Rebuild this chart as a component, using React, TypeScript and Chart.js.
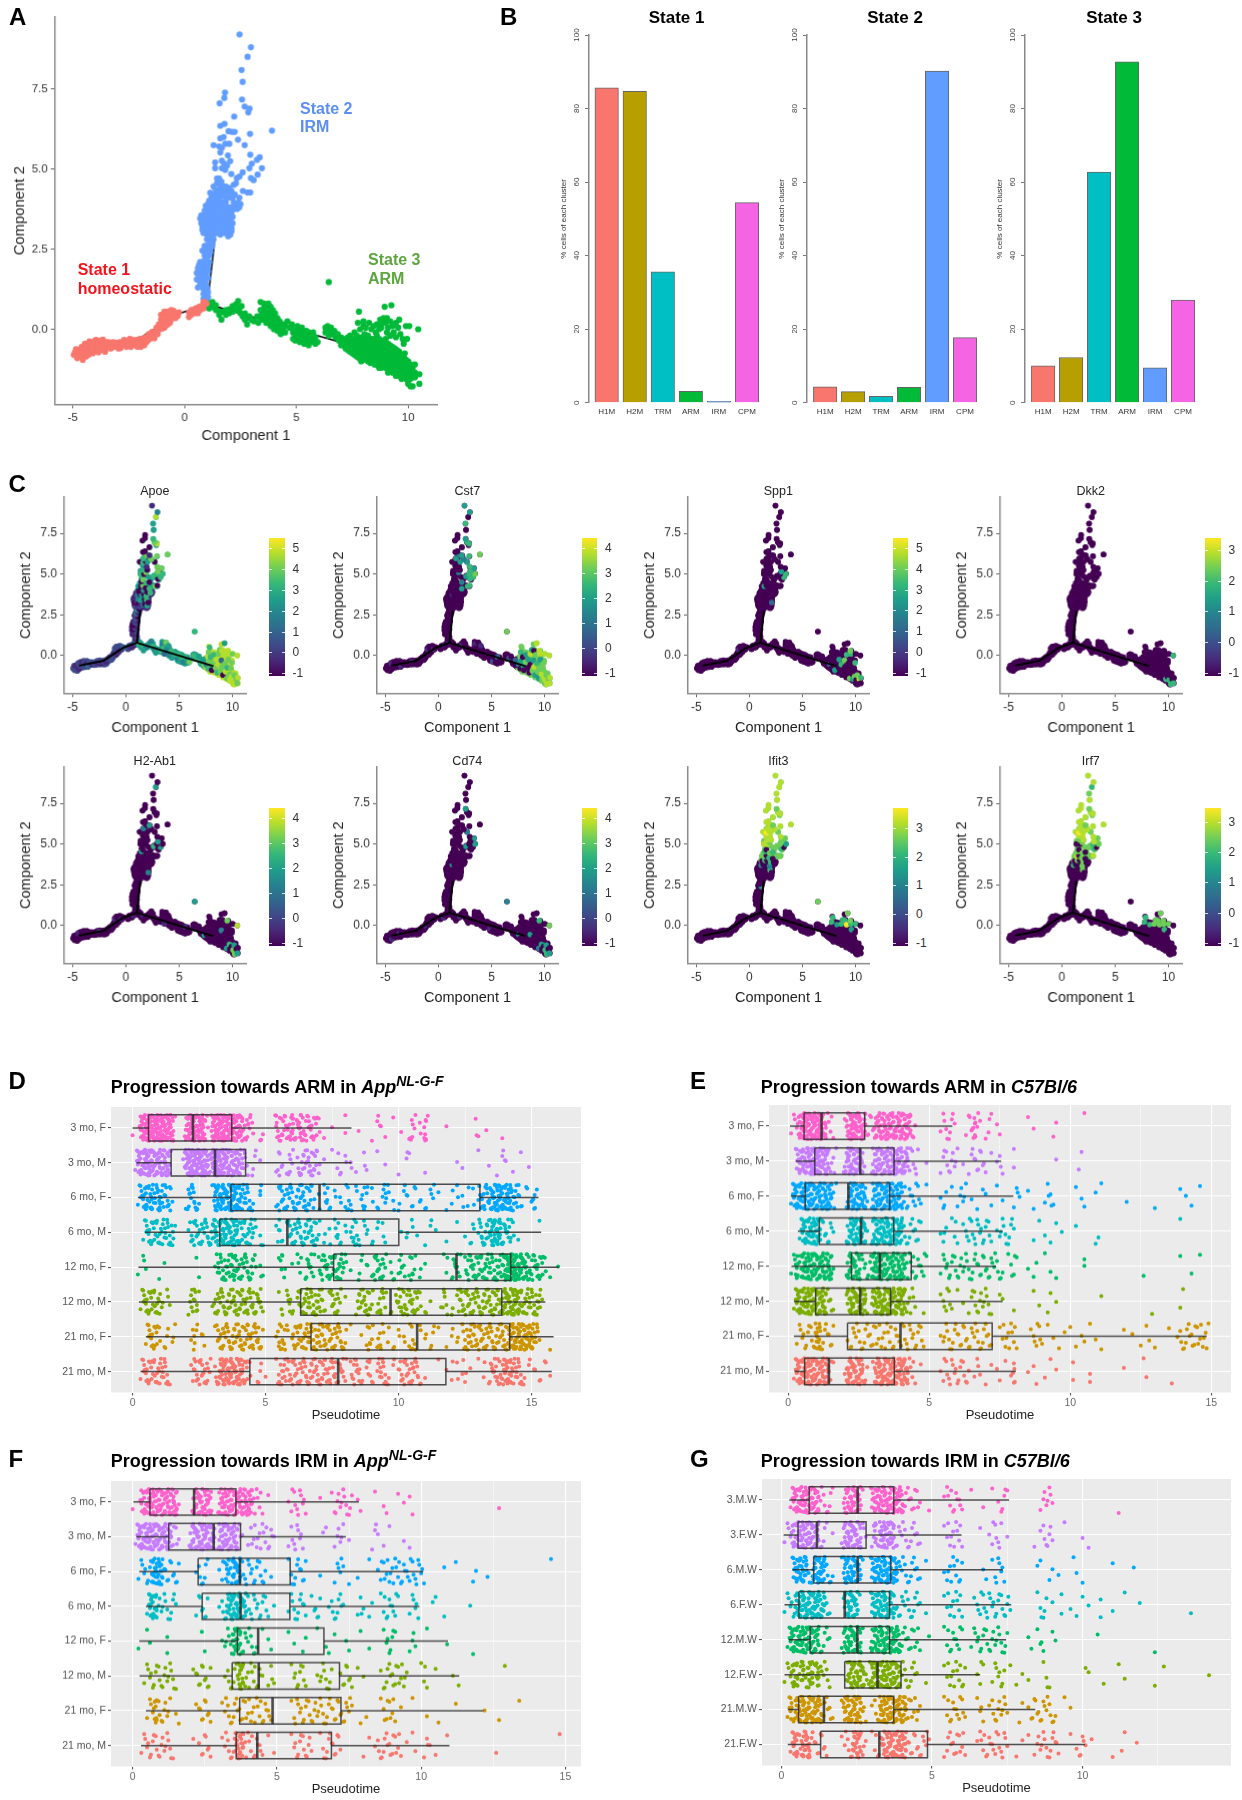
import React, { useEffect, useRef } from 'react';
import { Chart, registerables } from 'chart.js';
Chart.register(...registerables);
Chart.defaults.font.family = '"Liberation Sans", Arial, sans-serif';

// ---------- Panel A cells (flat x,y pairs) ----------
const state1Cells = [-4.95,-.8,-4.9,-.72,-4.8,-.9,-4.75,-.75,-4.7,-.65,-4.65,-.85,-4.55,-.95,-4.5,-.75,-4.5,-.6,-4.45,-.45,-4.4,-.85,-4.35,-.65,-4.3,-.5,-4.25,-.38,-4.2,-.72,-4.15,-.58,-4.05,-.45,-4,-.68,-3.95,-.33,-3.9,-.55,-3.85,-.72,-3.8,-.42,-3.7,-.6,-3.65,-.32,-3.6,-.48,-3.55,-.7,-3.45,-.55,-3.4,-.4,-3.3,-.6,-3.25,-.48,-3.15,-.55,-3,-.5,-2.9,-.4,-2.85,-.58,-2.75,-.45,-2.7,-.33,-2.6,-.55,-2.55,-.42,-2.45,-.3,-2.4,-.55,-2.3,-.42,-2.2,-.5,-2.15,-.33,-2.05,-.45,-1.95,-.55,-1.9,-.3,-1.85,-.42,-1.75,-.25,-1.7,-.4,-1.6,-.15,-1.55,-.3,-1.45,-.08,-1.4,-.22,-1.3,-.1,-1.25,.05,-1.2,-.15,-1.15,.15,-1.1,0,-1.05,.3,-1.05,.45,-1,.15,-.95,.38,-.9,.55,-.9,.05,-.85,.25,-.8,.45,-.75,.15,-.7,.35,-.7,.55,-.6,.3,-.55,.48,-.5,.58,-.45,.4,-.4,.5,-.3,.42,-.25,.53,.2,.38,.2,.52,.3,.45,.35,.6,.45,.5,.5,.65,.55,.55,.65,.7,.7,.6,.8,.75,.85,.65,.9,.85,.98,.8,
-4.85,-.62,-4.65,-.7,-4.6,-.55,-4.4,-.55,-4.3,-.8,-4.2,-.45,-4.1,-.75,-4,-.35,-3.9,-.42,-3.75,-.35,-3.75,-.65,-3.6,-.62,-3.5,-.4,-3.2,-.4,-3.1,-.42,-2.95,-.6,-2.65,-.38,-2.5,-.5,-2.35,-.32,-2.1,-.55,-2,-.3,-1.8,-.5,-1.65,-.35,-1.5,-.2,-1.35,-.28,-1.2,0,-1,.02,-.85,.1,-.8,.55,-.65,.2,-.6,.6,-.4,.35,.3,.6,.6,.5,.75,.7,.85,.85];
const state2Cells = [.85,.95,.95,.95,1.05,1,.85,1.1,.95,1.1,1.05,1.15,.85,1.25,.95,1.25,.85,1.4,.95,1.4,1,1.3,.6,1.3,.7,1.7,.55,1.55,.55,1.75,.6,1.9,.65,2,.75,1.55,.85,1.55,.95,1.55,.7,1.4,.75,1.8,.85,1.7,.95,1.7,1.05,1.6,.85,1.85,.95,1.85,1.05,1.8,.75,2,.85,2,.95,2,1.05,1.95,.7,2.1,1.1,2.1,.9,2.15,1,2.2,.9,2.3,1.1,2.3,.95,2.45,1.15,2.4,.8,2.45,1.05,2.55,1.2,2.55,.9,2.6,1.1,2.7,1.25,2.65,1,2.8,1.15,2.85,1.3,2.8,1,2.95,.85,3,1.15,3,1.3,2.95,.9,3.1,1.05,3.1,1.2,3.1,.8,3.2,.95,3.25,1.1,3.2,1.25,3.25,1.4,3.1,1.55,3.05,1.7,3,1.85,3,2,3.05,2.05,2.95,.8,3.4,.95,3.4,1.1,3.4,1.25,3.4,1.4,3.3,1.55,3.3,1.7,3.2,1.85,3.25,2,3.25,2.1,3.15,.85,3.55,1,3.6,1.15,3.55,1.3,3.55,1.45,3.5,1.6,3.5,1.75,3.4,1.9,3.45,2.05,3.4,1,3.75,1.15,3.75,1.3,3.7,1.45,3.7,1.6,3.65,1.75,3.6,1.9,3.6,2,3.6,1.05,3.9,1.2,3.9,1.35,3.85,1.5,3.85,1.65,3.8,1.8,3.8,1.95,3.75,2.3,3.85,2.35,3.75,1.2,4.1,1.4,4,1.55,4,1.7,3.95,1.85,3.95,2.2,3.95,2.4,3.95,1.15,4.25,1.35,4.2,1.5,4.15,1.65,4.15,1.85,4.1,2.15,4.1,2.05,4.1,1.4,4.35,1.55,4.35,1.7,4.3,1.9,4.3,2.1,4.3,1.45,4.55,1.6,4.5,1.75,4.45,1.85,4.45,2,4.4,2.2,4.5,2.3,4.55,1.45,4.7,1.55,4.7,1.65,4.6,2.61,4.31,2.82,4.26,2.94,4.26,2.34,4.71,2.46,4.76,2.97,4.71,3.09,4.65,2.09,4.84,3.27,4.82,2.6,4.89,1.37,5.02,1.67,5.02,1.82,4.97,2.9,5.02,3.46,5.02,1.78,5.16,1.9,5.1,3.01,5.16,1.37,5.2,1.67,5.25,2.04,5.24,3.24,5.28,3.36,5.36,1.94,5.42,2.94,5.44,1.6,5.51,1.55,5.7,1.67,5.65,1.3,5.74,1.82,5.78,2,5.78,2.69,5.74,1.6,5.95,1.75,5.99,2.39,5.91,1.97,6.17,2.12,6.15,2.24,6.15,2.93,6.09,3.91,6.19,1.6,6.34,1.79,6.4,2.22,6.63,2.85,6.76,2.91,6.88,2.69,6.94,1.57,7.04,2.57,7.16,1.78,7.21,1.81,7.38,2.6,7.71,2.55,8.08,2.82,8.49,2.97,8.79,2.46,9.19,
1.1,3.3,1.3,3.2,1.5,3.2,1.7,3.3,1.9,3.15,1.05,3.5,1.25,3.5,1.4,3.45,1.6,3.4,1.8,3.5,2,3.5,1.2,3.65,1.4,3.6,1.55,3.6,1.7,3.7,1.85,3.7,2.1,3.3,1.95,3.3,1,2.6,1.15,2.7,1,3.15,1.2,3,.75,3.3,.7,3.45,1.4,3.95,1.6,3.9,1.75,3.85,1.5,4.25,1.3,4.45,1.6,4.25,1.8,4.2,2,4.2,2.25,4.2,2.45,4.1,.8,1.9,.9,1.6,.65,1.65,
.75,3.55,.8,3.1,1.45,3,1.6,2.95,1.75,3.1,1.95,2.9,2.1,3.05,2.15,3.3,2.15,3.5,2.1,3.65,2.05,3.8,1.85,3.85,1.6,3.75,.9,3.7,.95,3.85,1.1,4,1.25,4.05,2.2,3.75,2.45,3.8,2.5,3.9];
const state3Cells = [1.1,.8,1.1,.65,1.25,.7,1.25,.85,1.4,.75,1.4,.6,1.55,.55,1.55,.45,1.65,.3,1.7,.55,1.85,.45,1.85,.6,2,.5,2,.62,2.15,.55,2.15,.72,2.3,.6,2.3,.78,2.4,.88,2.45,.65,2.5,.5,2.55,.72,2.6,.4,2.7,.5,2.7,.3,2.8,.35,2.8,.15,2.9,.4,3,.3,3.1,.25,3.25,.4,3.3,.2,3.4,.3,3.4,.85,3.4,.6,3.45,.45,3.55,.8,3.55,.65,3.55,.5,3.55,.3,3.65,.7,3.65,.4,3.65,.2,3.75,.8,3.75,.6,3.75,.45,3.75,.25,3.85,.7,3.85,.5,3.85,.3,3.85,.1,3.95,.6,3.95,.4,3.95,.2,4,0,4.05,.5,4.05,.3,4.05,.1,4.15,.35,4.15,.15,4.15,-.05,4.25,.25,4.25,.05,4.3,-.15,4.4,.15,4.4,-.05,4.5,.1,4.5,-.1,4.6,.25,4.7,.05,4.8,.15,4.85,-.1,4.85,-.3,4.95,0,4.95,-.2,4.95,-.35,5.05,.1,5.05,-.1,5.05,-.3,5.15,-.05,5.15,-.25,5.15,-.4,5.25,.05,5.25,-.15,5.25,-.35,5.35,-.1,5.35,-.3,5.35,-.45,5.45,-.05,5.45,-.2,5.45,-.4,5.55,-.1,5.55,-.3,5.55,-.5,5.65,-.2,5.65,-.4,5.75,-.1,5.75,-.3,5.85,-.25,5.85,-.45,5.95,-.4,6.3,.05,6.3,-.1,6.4,.1,6.45,-.05,6.45,-.2,6.55,.05,6.6,-.15,6.7,-.05,6.75,-.25,6.85,-.15,6.9,-.35,6.45,1.47,7,-.25,7,-.4,7,-.5,7.2,-.3,7.2,-.45,7.2,-.6,7.4,-.2,7.4,-.4,7.4,-.55,7.4,-.7,7.6,-.35,7.6,-.5,7.6,-.65,7.6,-.8,7.6,-.1,7.8,-.3,7.8,-.45,7.8,-.6,7.8,-.75,7.8,-.9,8,-.35,8,-.5,8,-.65,8,-.8,8,-.95,8,.1,8,.25,7.8,.55,8.2,-.4,8.2,-.55,8.2,-.7,8.2,-.85,8.2,-1,8.2,-.2,8.4,-.3,8.4,-.5,8.4,-.65,8.4,-.8,8.4,-.95,8.4,-1.05,8.6,-.4,8.6,-.55,8.6,-.7,8.6,-.85,8.6,-1,8.6,-1.1,8.6,-.2,8.8,-.35,8.8,-.5,8.8,-.65,8.8,-.8,8.8,-.95,8.8,-1.1,8.8,-1.2,9,-.45,9,-.6,9,-.75,9,-.9,9,-1.05,9,-1.2,9,-.3,9.2,-.5,9.2,-.65,9.2,-.8,9.2,-.95,9.2,-1.1,9.2,-1.25,9.3,-1.35,9.4,-.6,9.4,-.75,9.4,-.9,9.4,-1.05,9.4,-1.2,9.4,-1.35,9.45,-1.45,9.6,-.7,9.6,-.85,9.6,-1,9.6,-1.15,9.6,-1.3,9.6,-1.45,9.8,-.85,9.8,-1,9.8,-1.15,9.8,-1.3,9.8,-1.45,10,-1,10,-1.15,10,-1.3,10,-1.45,10,-1.6,10.2,-1.2,10.2,-1.35,10.2,-1.5,7.75,.2,8.1,.05,8.35,0,8.6,.15,8.75,.3,8.8,.05,8.9,.35,8.95,.7,9,.2,9.05,.35,9.1,.05,9.25,.75,9.2,.25,9.35,-.1,9.45,.2,9.6,.3,9.65,-.15,9.8,-.45,9.9,.1,9.95,-.3,10.05,.1,10.45,0,10.2,-1.78,10.1,-1.78,10,-1.7,10.5,-1.4,10.5,-1.7,10.3,-1.1,9.85,-.75,
7.1,-.35,7.1,-.5,7.3,-.25,7.3,-.5,7.3,-.65,7.5,-.3,7.5,-.45,7.5,-.6,7.5,-.75,7.7,-.2,7.7,-.4,7.7,-.55,7.7,-.7,7.7,-.85,7.9,-.25,7.9,-.4,7.9,-.55,7.9,-.7,7.9,-.85,7.9,-1,8.1,-.3,8.1,-.45,8.1,-.6,8.1,-.75,8.1,-.9,8.3,-.3,8.3,-.45,8.3,-.6,8.3,-.75,8.3,-.9,8.3,-1.05,8.5,-.35,8.5,-.5,8.5,-.65,8.5,-.8,8.5,-.95,8.5,-1.1,8.7,-.3,8.7,-.45,8.7,-.6,8.7,-.75,8.7,-.9,8.7,-1.05,8.7,-1.2,8.9,-.4,8.9,-.55,8.9,-.7,8.9,-.85,8.9,-1,8.9,-1.15,9.1,-.45,9.1,-.6,9.1,-.75,9.1,-.9,9.1,-1.05,9.1,-1.2,9.1,-1.35,9.3,-.55,9.3,-.7,9.3,-.85,9.3,-1,9.3,-1.15,9.5,-.65,9.5,-.8,9.5,-.95,9.5,-1.1,9.5,-1.25,9.5,-1.4,9.7,-.8,9.7,-.95,9.7,-1.1,9.7,-1.25,9.7,-1.4,9.7,-1.55,9.9,-.95,9.9,-1.1,9.9,-1.25,9.9,-1.4,9.9,-1.55,10.1,-1.1,10.1,-1.25,10.1,-1.4,10.1,-1.55,10.3,-1.35,10.3,-1.5,7.85,0,8.05,-.15,8.25,.2,8.45,.1,8.55,-.1,8.7,0,8.85,.2,9.05,-.1,9.2,-.2,9.3,.1,9.45,-.25,9.55,.05,9.75,-.3];
const trunkPath = [-4.4,-.62,-2.1,-.32,-.2,.5,1.05,.78];
const irmPath = [1.05,.78,1.1,1.25,1.35,2.75];
const armPath = [1.05,.78,8.2,-.65];

// ---------- Panel B ----------
const clusterNames = ['H1M','H2M','TRM','ARM','IRM','CPM'];
const clusterColors = ['#F8766D','#B79F00','#00BFC4','#00BA38','#619CFF','#F564E3'];
const state1Pct = [85.6,84.7,35.6,3.1,.4,54.4];
const state2Pct = [4.3,3,1.7,4.2,90.2,17.7];
const state3Pct = [10,12.3,62.7,92.7,9.5,27.9];

// ---------- Panel C: cells in groups of ten, expression levels as viridis steps 0-9 ----------
const geneCells1 = [-4.9,-.8,-4.75,-.65,-4.7,-.9,-4.55,-.7,-4.45,-.5,-4.4,-.85,-4.25,-.65,-4.15,-.42,-4.05,-.6,-3.9,-.38,
-3.85,-.62,-3.7,-.5,-3.55,-.65,-3.45,-.45,-3.2,-.55,-2.95,-.5,-2.7,-.45,-2.5,-.35,-2.3,-.5,-2.05,-.4,
-1.85,-.4,-1.7,-.2,-1.5,-.1,-1.35,-.25,-1.25,0,-1.1,.15,-1,.35,-.9,.05,-.8,.45,-.7,.25,
-.6,.5,-.45,.4,-.3,.5,.2,.4,.35,.55,.5,.5,.6,.65,.75,.6,.85,.75,.95,.85];
const geneCells2 = [.9,1,1,1.15,.85,1.3,1,1.45,.7,1.6,.85,1.7,1,1.75,.65,1.85,.8,2,.95,2,
1.1,2.1,.9,2.25,1.1,2.4,.95,2.55,1.2,2.6,1.05,2.8,1.25,2.85,.9,3,1.1,3.05,1.3,3,
.85,3.25,1,3.3,1.2,3.2,1.4,3.15,1.6,3.1,1.8,3.15,2,3.05,.95,3.5,1.15,3.45,1.35,3.4,
1.55,3.5,1.75,3.45,1.95,3.4,2.1,3.25,1.1,3.7,1.3,3.75,1.5,3.7,1.7,3.75,1.9,3.65,1.2,3.95,
1.45,4,1.65,4,2,3.9,2.3,3.85,1.4,4.25,1.6,4.3,1.85,4.15,2.2,4.1,1.45,4.55,1.6,4.65,
1.9,4.45,2.2,4.5,2.75,4.25,2.95,4.3,2.6,4.85,3,4.7,3.25,4.8,3.45,5,2.9,5,1.35,5,
1.7,5,1.9,5.1,3.2,5.3,3.35,5.35,3,5.15,1.65,5.25,2,5.25,1.6,5.5,1.95,5.45,2.95,5.45,
1.3,5.75,1.6,5.7,1.85,5.8,2.05,5.75,2.7,5.75,1.65,5.95,2.4,5.9,1.95,6.15,2.2,6.15,2.9,6.1,
3.9,6.2,1.6,6.35,1.8,6.4,2.2,6.65,1.55,7.05,2.9,6.85,2.7,6.95,1.8,7.2,2.55,7.15,1.8,7.4,
2.6,7.7,2.55,8.1,2.8,8.5,2.95,8.8,2.45,9.2];
const geneCells3 = [1.2,.7,1.4,.5,1.6,.6,1.8,.45,2,.55,2.2,.7,2.35,.85,2.5,.55,2.7,.35,2.9,.3,
3.1,.3,3.35,.25,3.4,.7,3.5,.45,3.6,.1,3.75,.8,3.85,.4,4,.6,4.1,.05,4.25,.25,
4.45,-.1,4.6,.1,4.85,-.2,4.95,.05,5.1,-.35,5.25,-.1,5.4,-.4,5.55,-.1,5.75,-.35,5.95,-.4,
6.45,1.47,6.4,0,6.65,-.15,6.85,-.05,7,-.4,7.25,-.3,7.35,-.6,7.55,-.55,7.7,-.8,7.75,-.35,
7.85,.5,7.75,.2,7.95,-.1,8,-.65,8.05,-.9,8.2,-.4,8.25,.05,8.4,-.75,8.45,-.25,8.55,-1.05,
8.65,.1,8.65,-.55,8.8,.35,8.85,-.95,8.95,-.3,9,.3,9,-.7,9.1,-1.2,9.15,.05,9.25,.75,
9.3,-.5,9.35,-1,9.45,-1.4,9.5,-.75,9.55,.1,9.6,-.25,9.7,-1.15,9.75,-1.45,9.85,-.8,9.9,-1.3,
9.95,-.45,10,.1,10.05,-1.5,10.15,-1.2,10.2,-1.75,10.35,-1.45,10.45,0,10.5,-1.35,10.45,-1.7,9.5,.3];
const viridisSteps = ['#440154','#482878','#3E4A89','#31688E','#26828E','#1F9E89','#35B779','#6DCD59','#B4DE2C','#FDE725'];
const apoeLevels = ['2121212122','2132121212','1212212121','2132212123','1212021012','1203140212','0101305145','5060415060','0506070607','6070606666','0707760517','0605067717','7000087060','55841','6565454645','5646374546','5646564657','6665657467','6766076786','7877387085','7876877878','7787878878'];
const cst7Levels = ['0000100000','0010000100','0000001000','0100001001','0000000000','0000000000','0000000000','0000010000','0000000500','0466566760','0455600006','0005554456','7000066050','06055','0000010000','0010000100','0000200300','7020030405','7605075050','8057508578','6757858778','7887878888'];
const spp1Levels = ['0000000000','0000000000','0000001000','0000000000','0000000000','0000000000','0000000000','0003000000','0000500000','0000006600','0000500000','0000000000','0000000000','00000','0000000000','0000000000','0000000000','0000000300','0000500050','0600700060','0070600507','6007080607'];
const dkk2Levels = ['0000000000','0000000000','0000000000','0000000000','0000000000','0000000000','0000000000','0000000000','0000000000','0000000000','0000000000','0000000000','0000000000','00000','0000000000','0000000000','0000000000','0000000000','0000000000','0000000000','0000000600','0060606060'];
const h2ab1Levels = ['0000100000','0000000100','0000001000','0100000100','0000000000','0000000000','0000000000','0004000000','0000000050','0000605000','0000500000','0000040050','0000000000','00500','0010000000','0000100000','0000000100','5000005000','0000000000','0000400000','0050006000','0075708057'];
const cd74Levels = ['0000010000','0100000000','0000100000','0000010000','0000000000','0000000000','0000000000','0000050000','0000000000','0000500500','0005000000','0000400000','0000000050','00000','0000100000','0000000000','0010000000','4000000400','0000000000','0500000000','0040005000','0065607056'];
const ifit3Levels = ['0000000000','0000000000','0000000000','0000000000','0000000000','0050000000','0000000000','0060400040','6060706060','7677760578','8777788888','8988788878','8888888878','88888','0000000000','0000000000','0000000000','7000000000','6600005000','6060060097','0000650000','0600000007'];
const irf7Levels = ['0000000000','0000000000','0000000000','0000000000','0000000000','0000000000','0000000000','0070600070','7070807070','7078760760','0787878888','8988788878','8888888878','87688','0000000000','0000000000','0000000000','0000000000','6600006000','7070070077','0000760000','0700000007'];
const geneNames = ['Apoe','Cst7','Spp1','Dkk2','H2-Ab1','Cd74','Ifit3','Irf7'];
const geneLevels = [apoeLevels,cst7Levels,spp1Levels,dkk2Levels,h2ab1Levels,cd74Levels,ifit3Levels,irf7Levels];
// background step of the densely packed cells: state 1, lower state 2, upper state 2, left state 3, right state 3
const geneBackdrop = [[2,1,5,5,8],[0,0,0,0,7],[0,0,0,0,0],[0,0,0,0,0],[0,0,0,0,0],[0,0,0,0,0],[0,0,7,0,0],[0,0,7,0,0]];
const geneBarMin = [-1.13,-1.1,-1.15,-1.1,-1.1,-1.1,-1.1,-1.1];
const geneBarMax = [5.51,4.4,5.5,3.4,4.4,4.4,3.7,3.46];
const geneBarTicks = [[5,4,3,2,1,0,-1],[4,3,2,1,0,-1],[5,4,3,2,1,0,-1],[3,2,1,0,-1],[4,3,2,1,0,-1],[4,3,2,1,0,-1],[3,2,1,0,-1],[3,2,1,0,-1]];

// ---------- Panels D-G: pseudotime in tenths, rows top to bottom ----------
const rowHues = ['#FF61CC','#C77CFF','#00A9FF','#00BFC4','#00BE67','#7CAE00','#CD9600','#F8766D'];
const ageSexLabels = ['3 mo, F','3 mo, M','6 mo, F','6 mo, M','12 mo, F','12 mo, M','21 mo, F','21 mo, M'];
const wildLabels = ['3.M.W','3.F.W','6.M.W','6.F.W','12.M.W','12.F.W','21.M.W','21.F.W'];
const jitterOffsets = [.21,-.33,.05,.34,-.12,-.27,.29,-.02,.15,-.36,.09,.37,-.19,-.07,.26,-.3,.12,.32,-.23,.02,-.15,.36,.18,-.35,-.05,.24,-.26,.07,.3,-.1,-.37,.16,.34,-.2,-.01,.27,-.29];
// where the picture is packed solid a listed value stands for several overlapping cells
const packedShifts = [0,.035,-.035,.018];

const d1 = [0,3,3,4,4,4,5,5,5,6,6,6,7,7,7,8,8,8,9,9,9,10,10,10,11,11,11,12,12,12,13,13,13,14,14,14,15,15,16,20,20,21,21,21,22,22,22,23,23,23,24,24,25,25,25,26,26,26,27,27,28,30,30,31,31,31,32,32,32,33,33,33,34,34,34,35,35,35,36,36,36,37,37,38,38,39,39,40,40,41,41,42,43,44,45,48,49,54,54,55,56,57,58,59,60,60,61,62,63,63,64,65,66,67,68,69,70,72,75,80,80,85,90,92,93,95,98,101,104,105,106,108,110,110,111,118,130,129,133,139];
const d2 = [1,2,2,3,3,4,4,5,5,5,6,6,6,7,7,8,8,9,9,10,10,11,11,12,12,13,13,14,14,19,20,20,21,21,21,22,22,22,23,23,23,24,24,24,25,25,25,26,26,26,27,27,27,28,28,29,30,30,31,31,31,32,32,32,33,33,33,34,34,34,35,35,36,36,37,37,38,38,39,39,40,40,41,42,43,45,46,48,54,55,56,58,59,60,62,63,64,65,66,67,68,69,70,72,75,77,78,80,82,84,87,88,92,95,100,103,104,110,122,124,130,134,137,139,140,143,146,149];
const d3 = [2,3,4,5,5,6,7,7,8,9,10,10,11,12,13,14,15,20,21,22,23,24,25,30,31,31,32,32,33,33,34,34,35,35,36,36,37,37,38,38,39,39,40,40,41,42,43,44,45,48,48,54,55,56,57,58,59,60,61,62,63,64,65,66,67,68,70,72,73,74,76,78,80,81,82,84,86,87,88,90,92,94,95,96,98,100,102,103,105,106,108,110,112,113,115,118,120,122,124,126,128,130,131,132,133,134,135,135,136,136,137,137,138,138,139,139,140,140,141,141,142,142,143,144,145,146,148,150,151,152];
const d4 = [4,5,6,7,8,9,10,11,12,13,14,15,16,21,22,23,24,25,26,27,28,29,30,31,31,32,33,33,34,34,35,35,36,36,37,37,38,38,39,39,40,41,42,43,44,45,46,48,49,54,55,56,58,59,60,61,62,63,64,65,66,67,68,69,70,72,74,76,77,78,80,82,83,84,85,87,88,90,92,94,95,101,103,105,107,110,112,114,118,122,125,127,128,130,131,132,133,134,135,135,136,136,137,137,138,138,139,140,141,142,143,145,153];
const d5 = [2,4,5,10,12,24,25,31,32,33,34,35,36,37,38,38,39,40,41,42,43,44,45,46,48,49,55,56,57,60,62,63,65,66,67,68,70,71,72,73,74,75,76,77,78,79,80,82,85,86,88,90,91,92,93,94,95,97,98,100,101,102,104,105,106,108,110,117,118,120,121,122,123,125,126,127,128,129,130,131,132,133,134,135,136,137,138,139,140,140,141,141,141,142,142,142,143,143,143,144,144,144,145,145,146,146,147,147,148,148,149,150,151,152,153,154,155,157,160];
const d6 = [3,4,5,6,7,8,9,10,11,13,14,21,22,23,24,25,30,31,32,33,34,35,36,37,38,39,40,41,42,43,44,45,46,47,48,49,55,56,58,59,60,62,63,64,65,66,67,68,69,70,71,72,74,75,76,77,78,80,84,85,86,87,88,89,90,92,93,94,95,97,99,100,101,102,103,104,105,106,107,108,110,112,116,117,118,120,122,123,124,125,126,127,128,129,130,131,132,133,134,135,136,137,138,139,140,140,141,141,142,142,143,143,144,144,145,145,146,147,148,149,150,151,152,153,154];
const d7 = [5,6,7,8,9,10,12,13,15,16,22,23,24,26,27,31,32,33,34,35,36,37,38,39,40,41,42,43,44,45,46,47,48,49,54,55,56,57,58,60,61,62,63,64,65,66,67,68,69,70,71,72,73,74,75,76,77,78,79,80,82,86,88,89,90,92,93,94,96,98,100,102,104,105,106,108,110,112,113,115,118,120,122,124,125,126,127,128,129,130,131,132,133,134,135,136,137,138,139,140,141,142,142,143,143,144,144,145,145,146,146,147,147,148,148,149,149,150,150,151,152,153,157];
const d8 = [3,4,5,6,7,8,9,10,11,12,13,14,22,23,24,25,26,27,28,29,31,32,33,33,34,34,35,35,36,36,37,37,38,38,39,39,40,40,41,41,42,43,44,47,48,50,54,55,56,57,58,59,60,61,62,63,64,65,66,67,68,69,70,71,72,73,74,75,76,77,78,79,80,82,83,84,85,86,88,89,90,92,93,94,95,96,98,100,101,102,103,104,105,106,107,108,110,115,118,120,122,124,125,127,130,132,134,135,136,137,138,139,140,140,141,141,142,142,143,144,145,146,147,149,151,153,155,157];

const e1 = [1,2,3,4,4,5,5,5,6,6,6,7,7,7,8,8,8,9,9,9,10,10,10,11,11,11,12,12,13,13,14,15,16,20,21,21,22,22,22,23,23,23,24,24,24,25,25,26,26,27,27,28,29,30,31,31,32,32,33,33,34,34,35,35,36,36,37,37,38,38,39,39,40,40,41,41,42,42,43,43,44,45,54,55,56,57,58,59,63,64,65,66,66,67,68,70,71,72,74,75,85,87,94,95,105];
const e2 = [3,3,4,4,5,5,6,6,7,7,8,8,8,9,9,9,10,10,10,11,11,11,12,12,13,13,14,14,15,16,17,20,20,21,21,22,22,23,23,24,24,25,25,26,26,27,30,30,31,31,32,32,33,33,34,34,35,35,36,36,37,37,38,38,39,39,40,40,41,41,42,42,43,44,45,46,49,54,55,56,57,58,59,60,62,64,65,66,67,68,69,70,72,74,75,76,80,80,95,103,104];
const e3 = [1,2,2,3,3,4,4,5,5,6,6,7,7,8,8,9,9,10,10,11,11,12,12,13,13,14,14,15,15,16,17,21,21,22,22,23,23,24,24,25,25,26,26,27,27,28,30,30,31,31,32,32,33,33,34,34,35,35,36,36,37,37,38,38,39,39,40,40,41,42,43,44,45,46,47,49,54,55,56,58,60,61,62,63,65,67,69,70,72,74,76,80,81,82,85,87,91,92,93,94,102,104,105,109,111,120,130,139,141,143,146];
const e4 = [4,5,5,6,6,7,7,8,8,9,9,10,10,11,11,12,13,14,15,16,21,21,22,22,23,23,24,24,25,25,26,26,27,27,28,30,30,31,31,32,32,33,33,34,34,35,35,36,36,37,37,38,38,39,39,40,40,41,42,43,44,45,46,47,54,55,56,58,59,60,62,63,64,65,66,67,68,69,70,71,72,74,75,76,77,78,79,80,87,89,91,93,95,97,102,109,110,139];
const e5 = [1,2,3,3,4,5,5,6,6,7,7,8,8,9,9,10,10,11,11,12,12,13,13,14,14,15,15,16,21,21,22,22,23,23,24,24,25,25,26,27,28,29,30,30,31,31,32,32,33,33,34,34,35,35,36,36,37,37,38,38,39,39,40,40,41,41,42,43,44,45,46,47,48,49,54,55,56,57,58,59,60,61,62,63,64,65,66,67,68,69,70,71,72,73,74,75,76,78,79,80,81,85,87,88,91,93,95,105,105,126,139,143,146];
const e6 = [2,3,3,4,4,5,5,6,6,7,7,8,8,9,9,10,10,11,11,12,12,13,13,14,15,16,21,21,22,22,23,23,24,24,25,25,26,26,27,27,28,30,30,31,31,32,32,33,33,34,34,35,35,36,36,37,37,38,38,39,39,40,40,41,41,42,43,44,45,48,54,55,56,57,58,60,62,64,65,66,67,68,69,70,71,72,75,76,80,87,89,92,93,95,111,129,139,140];
const e7 = [3,4,5,6,7,8,9,10,10,11,11,12,13,14,15,16,21,22,23,24,25,26,27,28,29,30,31,32,33,34,35,36,37,38,39,40,41,42,43,44,45,46,47,48,54,55,56,57,58,59,60,61,62,63,64,65,66,67,68,69,70,71,72,75,76,77,78,79,80,81,86,87,88,89,90,92,94,96,98,100,102,104,105,107,109,111,119,122,125,127,128,130,135,138,139,140,141,142,143,144,145,146,147,148,149];
const e8 = [2,3,3,4,4,5,5,6,6,7,7,8,8,9,9,10,10,11,11,12,12,13,13,14,14,15,16,20,21,21,22,22,23,23,24,24,25,25,26,26,27,28,30,31,31,32,32,33,33,34,34,35,35,36,36,37,37,38,38,39,39,40,40,41,41,42,42,43,44,45,47,54,55,56,57,58,59,60,61,62,63,64,66,67,68,70,72,74,75,77,79,80,80,85,87,88,91,93,95,101,101,107,107,119,126,127,136];

const f1 = [0,3,3,4,4,5,5,6,6,7,7,8,8,9,9,10,10,11,11,12,12,13,13,14,14,15,15,16,21,21,22,22,23,23,24,24,25,25,26,26,27,27,30,30,31,31,32,32,33,33,34,34,35,35,36,36,37,37,38,38,39,39,40,40,41,41,42,43,44,45,47,54,55,56,57,58,59,60,65,69,70,71,72,73,74,75,76,78,79,84,87,88,92,94,96,97,127];
const f2 = [1,2,2,3,3,4,4,5,5,6,6,7,7,8,8,9,9,10,10,11,11,12,12,13,13,14,15,16,20,20,21,21,22,22,23,23,24,24,25,25,26,26,27,27,28,28,30,30,31,31,32,32,33,33,34,34,35,35,36,36,37,38,40,41,42,43,44,45,46,47,48,49,54,55,56,57,58,59,66,67,70,71,72,73,75,83,84,85,87,89,94,96];
const f3 = [2,3,4,5,6,7,7,8,8,9,9,10,10,11,12,13,14,15,16,22,23,24,25,26,30,31,32,33,33,34,35,35,36,36,37,37,38,39,40,41,42,43,44,45,46,48,54,55,56,57,58,59,60,65,70,71,72,73,75,78,82,85,86,87,88,89,90,91,92,93,94,95,96,97,98,99,100,101,108,112,118,119,123,145];
const f4 = [5,6,6,7,7,8,8,9,10,11,12,13,14,15,22,23,24,25,26,30,31,32,33,33,34,34,35,35,36,36,37,37,38,38,39,39,40,41,42,43,44,45,46,47,49,54,55,56,57,58,59,60,62,63,64,65,68,69,70,71,72,73,78,79,80,82,83,86,87,88,89,90,91,92,96,97,98,99,104,105,108,117];
const f5 = [2,5,6,12,12,24,25,31,32,33,34,35,35,36,36,37,37,38,39,40,41,42,43,45,47,48,54,56,59,60,64,67,68,70,74,75,79,82,87,88,89,90,91,96,97,98,102,109,118];
const f6 = [4,5,6,7,8,9,10,11,12,13,14,15,21,22,23,24,25,26,27,32,33,34,35,36,37,37,38,38,39,40,41,42,43,44,45,47,48,49,55,56,57,58,59,60,64,65,66,67,68,69,72,73,74,75,76,78,80,86,87,88,89,90,91,92,93,94,95,100,101,102,105,111,113,129];
const f7 = [5,6,7,8,8,9,10,11,12,13,15,16,22,23,24,25,26,27,31,32,33,34,35,36,37,38,39,40,41,42,43,44,45,46,47,48,55,56,57,58,59,60,61,62,63,64,65,66,67,68,69,70,71,72,73,74,75,76,79,81,86,87,88,89,90,91,93,97,102,106,112,122,127,134];
const f8 = [3,4,5,6,7,8,9,10,11,12,13,14,21,23,24,25,26,27,31,32,33,34,35,36,36,37,37,38,38,39,40,41,42,43,44,45,47,49,55,56,57,58,59,60,61,62,65,66,67,68,69,70,71,72,80,82,84,85,86,87,88,89,90,91,92,93,95,97,98,101,102,103,105,109,126,148];

const g1 = [3,4,4,5,5,6,6,7,7,8,8,9,9,10,10,11,11,12,12,13,14,15,16,17,21,21,22,22,23,23,24,24,25,25,26,26,27,30,30,31,31,32,32,33,33,34,34,35,35,36,36,37,37,38,38,39,39,40,40,41,42,43,44,45,46,49,54,55,56,57,58,59,60,63,67,70,72,73,74,75,86,87,88,89,90,112];
const g2 = [1,2,3,4,4,5,5,6,6,7,7,8,8,9,9,10,10,11,11,12,12,13,14,15,17,20,21,21,22,22,23,23,24,24,25,25,26,26,27,28,30,31,31,32,33,33,34,34,35,35,36,36,37,37,38,39,40,41,42,43,44,45,46,54,55,56,57,58,59,60,66,69,70,71,72,73,75,84,86,87,88,89,90,94,100,102];
const g3 = [4,4,5,5,6,6,7,7,8,8,9,10,11,11,12,12,13,13,14,14,15,16,17,20,21,21,22,22,23,23,24,24,25,25,26,26,27,30,30,31,31,32,32,33,33,34,34,35,35,36,36,37,37,38,38,39,40,41,42,43,44,45,46,48,54,55,56,57,58,59,60,67,68,70,71,72,73,74,85,86,89,90,92,97,98,100,110,117];
const g4 = [1,2,3,4,5,5,6,6,7,7,8,8,9,9,10,10,11,11,12,12,13,13,14,14,15,16,21,21,22,22,23,23,24,24,25,25,26,30,30,31,31,32,32,33,33,34,34,35,35,36,36,37,37,38,39,40,41,42,43,44,45,46,48,54,55,56,57,58,59,60,64,65,66,67,68,69,70,71,72,73,74,75,76,85,86,87,88,90,93,93,96,98,100,102,106,106,110,114,119,136];
const g5 = [2,3,3,4,4,5,5,6,6,7,7,8,8,9,9,10,10,11,11,12,12,13,14,15,16,20,21,21,22,22,23,23,24,24,25,25,26,26,27,30,30,31,31,32,32,33,33,34,34,35,35,36,36,37,37,38,38,39,39,40,41,42,43,44,45,46,49,54,55,56,57,58,59,60,63,64,65,66,67,68,69,70,71,72,73,74,75,82,83,85,86,87,90,91,105,124];
const g6 = [1,2,3,4,4,5,5,6,7,7,8,9,9,10,10,11,12,12,13,14,15,16,22,22,23,23,24,24,25,25,26,26,27,27,28,29,30,30,31,31,32,32,33,33,34,34,35,35,36,36,37,37,38,38,39,39,40,41,42,43,44,45,48,54,55,56,57,58,59,60,61,65,66,67,70,71,72,73,74,76,78,80,82,87,88,89,101,102,107,112,114,124,127,142];
const g7 = [2,3,3,4,5,5,6,6,7,7,8,8,9,9,10,10,11,11,12,12,13,13,14,15,16,17,20,21,21,22,22,23,23,24,24,25,25,26,26,27,28,30,31,32,33,33,34,34,35,35,36,36,37,37,38,38,39,39,40,40,41,41,42,43,44,45,46,54,55,56,57,58,59,60,61,65,66,67,69,70,71,72,73,74,75,79,80,82,83,84,85,86,87,88,89,90,91,94,96];
const g8 = [3,4,4,5,5,6,7,7,8,8,9,9,10,11,12,13,14,15,20,21,22,23,24,24,25,25,26,26,27,28,30,31,32,33,34,34,35,35,36,36,37,37,38,38,39,39,40,40,41,41,42,43,44,45,46,47,48,49,54,55,56,57,58,59,60,61,65,66,67,68,69,70,71,72,73,74,75,78,80,82,84,85,86,87,88,89,90,91,92,96,98,99,100,101,103,110,113,114,118];

// box statistics: low whisker, Q1, median, Q3, high whisker
const dStats = [[0,.6,2.27,3.73,8.23],[.15,1.45,3.1,4.25,8.23],[.2,3.7,7.03,13.06,15.26],[.47,3.28,5.82,10.01,15.36],[.22,7.56,12.18,14.22,16.02],[.24,6.32,9.7,13.88,15.52],[.5,6.71,10.7,14.18,15.83],[.3,4.41,7.73,11.78,15.76]];
const eStats = [[.06,.56,1.18,2.71,5.82],[.27,.94,2.55,3.75,7.55],[.09,.6,2.13,3.6,7.98],[.34,1.1,2.58,3.74,7.6],[.11,2.24,3.25,4.36,7.37],[.2,.97,2.55,3.63,7.6],[.2,2.1,3.98,7.23,14.84],[.22,.58,1.44,3.76,8.07]];
const fStats = [[.03,.6,2.13,3.58,7.84],[.13,1.25,2.81,3.74,7.39],[.23,2.27,3.72,5.46,10.07],[.46,2.41,3.74,5.45,9.94],[.23,3.63,4.35,6.63,10.93],[.24,3.45,4.37,7.17,11.32],[.46,3.71,4.85,7.22,12.16],[.29,3.59,4.32,6.89,10.98]];
const gStats = [[.26,.92,2.53,3.73,7.56],[.07,.55,1.18,2.81,5.98],[.37,1.07,2.53,3.63,7.35],[.1,.58,2.1,3.59,7.63],[.24,.95,2.52,3.59,7.46],[.1,2.1,3.19,3.97,6.6],[.21,.57,1.41,3.73,8.43],[.21,1.3,3.25,4.85,10.08]];

// ---------- helpers ----------
const pairs = (flat: number[]) => { const o: {x:number,y:number}[] = []; for (let i = 0; i < flat.length; i += 2) o.push({ x: flat[i], y: flat[i + 1] }); return o; };
const setTicks = (vals: number[]) => (s: any) => { s.ticks = vals.map(value => ({ value })); };

type Rect = { l: number, t: number, r: number, b: number };
function frame(plot: Rect, canvasLeft: number, canvasBottom: number) {
  const padTop = Math.min(14, plot.t), padRight = 10;
  return {
    left: canvasLeft, top: plot.t - padTop, width: plot.r + padRight - canvasLeft, height: canvasBottom - plot.t + padTop,
    padding: { top: padTop, right: padRight, left: 0, bottom: 0 },
    yWidth: plot.l - canvasLeft, xHeight: canvasBottom - plot.b,
  };
}

function ChartCanvas({ f, config }: any) {
  const ref = useRef<HTMLCanvasElement>(null);
  useEffect(() => {
    const c = new Chart(ref.current!, config);
    return () => c.destroy();
  }, []);
  return <canvas ref={ref} width={f.width} height={f.height} style={{ position: 'absolute', left: f.left, top: f.top, width: f.width, height: f.height }} />;
}

const baseOpts = (f: any) => ({
  animation: false, responsive: false, devicePixelRatio: 1, events: [],
  layout: { padding: f.padding, autoPadding: false },
  plugins: { legend: { display: false }, tooltip: { enabled: false }, title: { display: false } },
});

function Txt({ x, y, children, style, center = true }: any) {
  return <div style={{ position: 'absolute', left: x, top: y, transform: center ? 'translate(-50%,-50%)' : 'translateY(-50%)', whiteSpace: 'nowrap', fontFamily: '"Liberation Sans", Arial, sans-serif', lineHeight: 1, ...style }}>{children}</div>;
}

// ---------- panel builders ----------
const lineSet = (flat: number[], width: number, order: number) => ({ type: 'scatter', showLine: true, data: pairs(flat), borderColor: '#000', borderWidth: width, pointRadius: 0, fill: false, tension: 0, order });

function panelA() {
  const plot = { l: 54.7, t: 17, r: 436.7, b: 404 };
  const f = frame(plot, 11, 444.6);
  const tick = { color: '#333', font: { size: 11.5 }, padding: 3 };
  const cells = [[state1Cells, '#F8766D'], [state2Cells, '#619CFF'], [state3Cells, '#00BA38']] as const;
  return <ChartCanvas f={f} config={{
    type: 'scatter',
    data: { datasets: [
      ...cells.map(([c, col]) => ({ data: pairs(c as number[]), backgroundColor: col, borderWidth: 0, pointRadius: 3.1, order: 1 })),
      lineSet(trunkPath, 1.5, 2), lineSet(irmPath, 1.5, 2), lineSet(armPath, 1.5, 2),
    ] },
    options: { ...baseOpts(f), scales: {
      x: { type: 'linear', min: -5.8, max: 11.29, afterFit: (s: any) => { s.height = f.xHeight; }, afterBuildTicks: setTicks([-5, 0, 5, 10]),
        grid: { drawOnChartArea: false, tickLength: 4, tickColor: '#666' }, border: { color: '#8c8c8c', width: 1.5 }, ticks: { ...tick, autoSkip: false, maxRotation: 0 },
        title: { display: true, text: 'Component 1', color: '#222', font: { size: 14.8 }, padding: 0 } },
      y: { type: 'linear', min: -2.34, max: 9.73, afterFit: (s: any) => { s.width = f.yWidth; }, afterBuildTicks: setTicks([0, 2.5, 5, 7.5]),
        grid: { drawOnChartArea: false, tickLength: 4, tickColor: '#666' }, border: { color: '#8c8c8c', width: 1.5 }, ticks: { ...tick, autoSkip: false, callback: (v: number) => v.toFixed(1) },
        title: { display: true, text: 'Component 2', color: '#222', font: { size: 14.8 }, padding: 0 } },
    } },
  }} />;
}

function panelB(values: number[], axisX: number, firstCenter: number) {
  const spacing = 28.07;
  const plot = { l: axisX, t: 35, r: firstCenter + 5.5 * spacing, b: 402.7 };
  const f = frame(plot, axisX - 30, 420);
  return <ChartCanvas f={f} config={{
    type: 'bar',
    data: { datasets: [{ data: values.map((y, x) => ({ x, y })), backgroundColor: clusterColors, borderColor: '#666', borderWidth: 1, barThickness: 23.5 }] },
    options: { ...baseOpts(f), scales: {
      x: { type: 'linear', offset: false, min: -(firstCenter - axisX) / spacing, max: 5.5, afterFit: (s: any) => { s.height = f.xHeight; }, afterBuildTicks: setTicks([0, 1, 2, 3, 4, 5]),
        grid: { display: false, tickLength: 0 }, border: { display: false }, ticks: { color: '#333', font: { size: 8 }, padding: 4.5, autoSkip: false, maxRotation: 0, callback: (v: number) => clusterNames[v] } },
      y: { type: 'linear', min: 0, max: 100, afterFit: (s: any) => { s.width = f.yWidth; }, afterBuildTicks: setTicks([0, 20, 40, 60, 80, 100]),
        grid: { drawOnChartArea: false, tickLength: 4, tickColor: '#777' }, border: { color: '#888', width: 1.5 },
        ticks: { color: '#444', font: { size: 8 }, padding: 2, minRotation: 90, maxRotation: 90, crossAlign: 'center', autoSkip: false },
        title: { display: true, text: '% cells of each cluster', color: '#333', font: { size: 8 }, padding: 0 } },
    } },
  }} />;
}

function panelC(g: number, l: number, rowShift: number) {
  const plot = { l, t: 497.3 + rowShift, r: l + 181.6, b: 693.3 + rowShift };
  const f = frame(plot, l - 47, 737 + rowShift);
  const levels = geneLevels[g].join('');
  const cells = [...pairs(geneCells1), ...pairs(geneCells2), ...pairs(geneCells3)];
  const [base1, base2low, base2high, base3left, base3right] = geneBackdrop[g];
  const backdrop = [
    ...pairs(state1Cells).map(c => ({ ...c, s: base1 })),
    ...pairs(state2Cells).map(c => ({ ...c, s: c.y < 4 ? base2low : base2high })),
    ...pairs(state3Cells).map(c => ({ ...c, s: c.x < 7.5 ? base3left : base3right })),
  ];
  const tick = { color: '#333', font: { size: 12 }, padding: 3 };
  const barTop = 537.7 + rowShift, barBottom = 676 + rowShift, barLeft = l + 205, barW = 15.5;
  const mn = geneBarMin[g], mx = geneBarMax[g];
  const yOf = (v: number) => barTop + (mx - v) / (mx - mn) * (barBottom - barTop);
  return <React.Fragment key={g}>
    <ChartCanvas f={f} config={{
      type: 'scatter',
      data: { datasets: [
        { data: backdrop, backgroundColor: backdrop.map(c => viridisSteps[c.s]), borderWidth: 0, pointRadius: 2.8, order: 3 },
        { data: cells, backgroundColor: cells.map((_, i) => viridisSteps[+(levels[i] || 0)]), borderWidth: 0, pointRadius: 2.8, order: 2 },
        lineSet(trunkPath, 2, 1), lineSet(irmPath, 2, 1), lineSet(armPath, 2, 1),
      ] },
      options: { ...baseOpts(f), scales: {
        x: { type: 'linear', min: -5.78, max: 11.26, afterFit: (s: any) => { s.height = f.xHeight; }, afterBuildTicks: setTicks([-5, 0, 5, 10]),
          grid: { drawOnChartArea: false, tickLength: 4, tickColor: '#666' }, border: { color: '#8c8c8c', width: 1.5 }, ticks: { ...tick, autoSkip: false, maxRotation: 0 },
          title: { display: true, text: 'Component 1', color: '#222', font: { size: 14.5 }, padding: 0 } },
        y: { type: 'linear', min: -2.31, max: 9.72, afterFit: (s: any) => { s.width = f.yWidth; }, afterBuildTicks: setTicks([0, 2.5, 5, 7.5]),
          grid: { drawOnChartArea: false, tickLength: 4, tickColor: '#666' }, border: { color: '#8c8c8c', width: 1.5 }, ticks: { ...tick, autoSkip: false, callback: (v: number) => v.toFixed(1) },
          title: { display: true, text: 'Component 2', color: '#222', font: { size: 14.5 }, padding: 0 } },
      } },
    }} />
    <Txt x={l + 90.8} y={491 + rowShift} style={{ fontSize: 12.5, color: '#222' }}>{geneNames[g]}</Txt>
    <div style={{ position: 'absolute', left: barLeft, top: barTop, width: barW, height: barBottom - barTop, background: `linear-gradient(to top, ${viridisSteps.join(',')})` }} />
    {geneBarTicks[g].map(v => <React.Fragment key={v}>
      <div style={{ position: 'absolute', left: barLeft, top: yOf(v), width: 3, height: 1, background: 'rgba(255,255,255,.8)' }} />
      <div style={{ position: 'absolute', left: barLeft + barW - 3, top: yOf(v), width: 3, height: 1, background: 'rgba(255,255,255,.8)' }} />
      <Txt x={barLeft + barW + 8} y={yOf(v)} center={false} style={{ fontSize: 12, color: '#333' }}>{v}</Txt>
    </React.Fragment>)}
  </React.Fragment>;
}

function stripPoints(row: number[], c: number, midCopies: number) {
  const pts: { x: number, y: number }[] = [];
  row.forEach((v, k) => {
    const span = (row[k + 1] ?? 999) - (row[k - 1] ?? -999);
    const copies = span <= 1 ? 4 : span === 2 ? midCopies : span <= 4 && midCopies > 2 ? 2 : 1;
    for (let n = 0; n < copies; n++) pts.push({ x: v / 10 + packedShifts[n], y: c + jitterOffsets[(k + n * 11) % jitterOffsets.length] });
  });
  return pts;
}

function panelStrip(rows: number[][], stats: number[][], labels: string[], plot: Rect, xMin: number, xMax: number, xTicks: number[], canvasBottom: number, midCopies: number) {
  const f = frame(plot, plot.l - 72, canvasBottom);
  const boxColor = 'rgba(40,40,40,.82)';
  const datasets: any[] = [];
  rows.forEach((row, i) => {
    datasets.push({ data: stripPoints(row, i + 1, midCopies), backgroundColor: rowHues[i], borderWidth: 0, pointRadius: 2, order: 3 });
    const [lo, q1, med, q3, hi] = stats[i];
    const h = .38, c = i + 1;
    const seg = (pts: number[], w: number) => datasets.push({ type: 'scatter', showLine: true, data: pairs(pts), borderColor: boxColor, borderWidth: w, pointRadius: 0, fill: false, tension: 0, order: 1 });
    seg([lo, c, q1, c], 1.5);
    seg([q3, c, hi, c], 1.5);
    seg([q1, c - h, q3, c - h, q3, c + h, q1, c + h, q1, c - h], 1.5);
    seg([med, c - h, med, c + h], 2.6);
  });
  const isMajor = (v: number) => xTicks.includes(v);
  const minor = [...xTicks, ...xTicks.map(v => v + 2.5)].sort((a, b) => a - b);
  return <ChartCanvas f={f} config={{
    type: 'scatter',
    data: { datasets },
    options: { ...baseOpts(f), scales: {
      x: { type: 'linear', min: xMin, max: xMax, afterFit: (s: any) => { s.height = f.xHeight; }, afterBuildTicks: setTicks(minor.filter(v => v < xMax)),
        grid: { color: '#fff', lineWidth: (c: any) => isMajor(c.tick.value) ? 1.1 : .5, tickColor: (c: any) => isMajor(c.tick.value) ? '#555' : 'rgba(0,0,0,0)', tickLength: 3 }, border: { display: false },
        ticks: { color: '#6a6a6a', font: { size: 10.5 }, padding: 1, autoSkip: false, maxRotation: 0, callback: (v: number) => isMajor(v) ? String(v) : '' },
        title: { display: true, text: 'Pseudotime', color: '#222', font: { size: 13 }, padding: 0 } },
      y: { type: 'linear', reverse: true, min: .4, max: 8.6, afterFit: (s: any) => { s.width = f.yWidth; }, afterBuildTicks: setTicks([1, 2, 3, 4, 5, 6, 7, 8]),
        grid: { color: '#fff', lineWidth: 1.1, tickColor: '#555', tickLength: 3 }, border: { display: false },
        ticks: { color: '#555', font: { size: 10.5 }, padding: 2, autoSkip: false, callback: (v: number) => labels[v - 1] } },
    } },
    plugins: [{ id: 'panelBg', beforeDraw(c: any) { const a = c.chartArea; c.ctx.save(); c.ctx.fillStyle = '#EBEBEB'; c.ctx.fillRect(a.left, a.top, a.right - a.left, a.bottom - a.top); c.ctx.restore(); } }],
  }} />;
}

const letter = { fontSize: 24, fontWeight: 700, color: '#000' };
const heading = { fontSize: 18, fontWeight: 700, color: '#000' };
const sup = { fontSize: 14, fontStyle: 'italic', verticalAlign: 'super', lineHeight: 0 } as const;
const stateLabel = { fontSize: 16, fontWeight: 700 };

export default function App() {
  const cCols = [64, 376.5, 687.5, 1000];
  return (
    <div style={{ position: 'absolute', left: 0, top: 0, width: 1242, height: 1800, background: '#fff', overflow: 'hidden' }}>
      {panelA()}
      <Txt x={300} y={108.7} center={false} style={{ ...stateLabel, color: '#5C90F0' }}>State 2</Txt>
      <Txt x={300} y={127.3} center={false} style={{ ...stateLabel, color: '#5C90F0' }}>IRM</Txt>
      <Txt x={77.7} y={270} center={false} style={{ ...stateLabel, color: '#F4131C' }}>State 1</Txt>
      <Txt x={77.7} y={289.3} center={false} style={{ ...stateLabel, color: '#F4131C' }}>homeostatic</Txt>
      <Txt x={368} y={260.3} center={false} style={{ ...stateLabel, color: '#5EA53F' }}>State 3</Txt>
      <Txt x={368} y={279.3} center={false} style={{ ...stateLabel, color: '#5EA53F' }}>ARM</Txt>

      {panelB(state1Pct, 589, 606.7)}
      {panelB(state2Pct, 806.5, 824.7)}
      {panelB(state3Pct, 1024.5, 1042.7)}
      <Txt x={676.6} y={17} style={{ fontSize: 17, fontWeight: 700 }}>State 1</Txt>
      <Txt x={895} y={17} style={{ fontSize: 17, fontWeight: 700 }}>State 2</Txt>
      <Txt x={1114} y={17} style={{ fontSize: 17, fontWeight: 700 }}>State 3</Txt>

      {geneNames.map((_, g) => panelC(g, cCols[g % 4], g < 4 ? 0 : 270))}

      {panelStrip([d1, d2, d3, d4, d5, d6, d7, d8], dStats, ageSexLabels, { l: 110.7, t: 1106.7, r: 580.7, b: 1392.3 }, -.81, 16.86, [0, 5, 10, 15], 1422.8, 4)}
      {panelStrip([e1, e2, e3, e4, e5, e6, e7, e8], eStats, ageSexLabels, { l: 769, t: 1105, r: 1231, b: 1392.3 }, -.684, 15.7, [0, 5, 10, 15], 1422.8, 2)}
      {panelStrip([f1, f2, f3, f4, f5, f6, f7, f8], fStats, ageSexLabels, { l: 110.7, t: 1481, r: 580.7, b: 1766 }, -.75, 15.54, [0, 5, 10, 15], 1796.5, 2)}
      {panelStrip([g1, g2, g3, g4, g5, g6, g7, g8], gStats, wildLabels, { l: 761.5, t: 1478.7, r: 1231, b: 1766 }, -.647, 14.93, [0, 5, 10], 1796.5, 2)}

      <Txt x={110.8} y={1087} center={false} style={heading}>Progression towards ARM in <i>App</i><span style={sup}>NL-G-F</span></Txt>
      <Txt x={760.7} y={1087} center={false} style={heading}>Progression towards ARM in <i>C57Bl/6</i></Txt>
      <Txt x={110.8} y={1461} center={false} style={heading}>Progression towards IRM in <i>App</i><span style={sup}>NL-G-F</span></Txt>
      <Txt x={760.7} y={1461} center={false} style={heading}>Progression towards IRM in <i>C57Bl/6</i></Txt>

      <Txt x={9} y={17} center={false} style={letter}>A</Txt>
      <Txt x={500} y={17} center={false} style={letter}>B</Txt>
      <Txt x={8.5} y={484} center={false} style={letter}>C</Txt>
      <Txt x={8.5} y={1081} center={false} style={letter}>D</Txt>
      <Txt x={690} y={1081} center={false} style={letter}>E</Txt>
      <Txt x={8.5} y={1459} center={false} style={letter}>F</Txt>
      <Txt x={690} y={1459} center={false} style={letter}>G</Txt>
    </div>
  );
}
